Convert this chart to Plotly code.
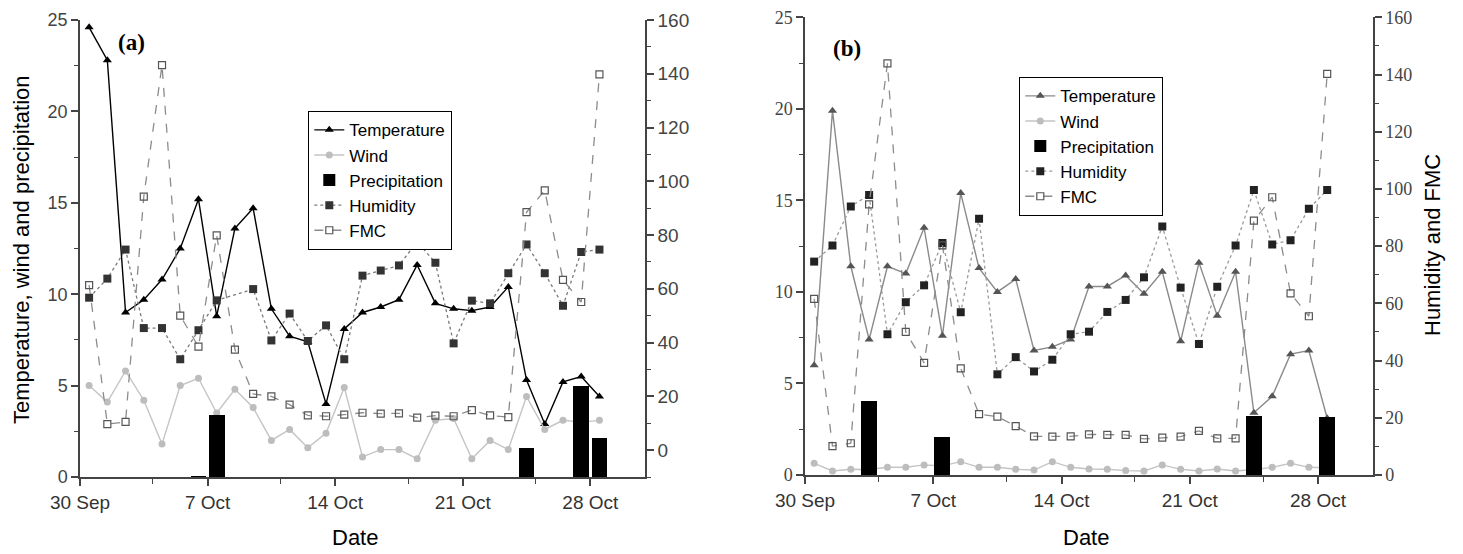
import pandas as pd
import plotly.graph_objects as go

# ---------------- data ----------------
dates = pd.date_range("2012-09-30", "2012-10-28", freq="D")   # daily values, plotted at mid-day

# panel (a)
temp_a = [24.6, 22.8, 9.0, 9.7, 10.8, 12.5, 15.2, 8.8, 13.6, 14.7, 9.2, 7.7, 7.4, 4.0, 8.1,
          9.0, 9.3, 9.7, 11.6, 9.5, 9.2, 9.1, 9.3, 10.4, 5.3, 2.9, 5.2, 5.5, 4.4]
wind_a = [5.0, 4.1, 5.8, 4.2, 1.8, 5.0, 5.4, 3.5, 4.8, 3.8, 2.0, 2.6, 1.6, 2.4, 4.9,
          1.1, 1.5, 1.5, 1.0, 3.1, 3.2, 1.0, 2.0, 1.5, 4.4, 2.6, 3.1, 3.0, 3.1]
precip_a = [0, 0, 0, 0, 0, 0, 0.05, 3.4, 0, 0, 0, 0, 0, 0, 0,
            0, 0, 0, 0, 0, 0, 0, 0, 0, 1.6, 0, 0, 5.0, 2.15]
hum_a = [56.7, 63.8, 74.6, 45.4, 45.4, 33.8, 44.6, 55.7, None, 59.9, 40.8, 50.8, 40.6, 46.4, 33.8,
         64.9, 66.8, 68.7, 77.5, 69.7, 39.7, 55.6, 54.6, 65.8, 76.5, 65.8, 53.7, 73.7, 74.6]
fmc_a = [61.4, 9.7, 10.5, 94.3, 143.2, 50.0, 38.5, 79.9, 37.4, 20.9, 20.0, 16.9, 12.9, 12.6, 13.2,
         13.9, 13.6, 13.7, 12.1, 12.8, 12.6, 14.9, 12.9, 12.3, 88.5, 96.6, 63.3, 55.1, 139.8]

# panel (b)
temp_b = [6.0, 19.9, 11.4, 7.4, 11.4, 11.0, 13.5, 7.6, 15.4, 11.3, 10.0, 10.7, 6.8, 7.0, 7.4,
          10.3, 10.3, 10.9, 9.9, 11.1, 7.3, 11.6, 8.7, 11.1, 3.4, 4.3, 6.6, 6.8, 3.1]
wind_b = [0.64, 0.22, 0.31, 0.3, 0.42, 0.42, 0.55, 0.5, 0.73, 0.42, 0.42, 0.31, 0.27, 0.73, 0.42,
          0.33, 0.31, 0.24, 0.22, 0.55, 0.31, 0.22, 0.33, 0.22, 0.3, 0.42, 0.64, 0.42, 0.4]
precip_b = [0, 0, 0, 4.0, 0, 0, 0, 2.05, 0, 0, 0, 0, 0, 0, 0,
            0, 0, 0, 0, 0, 0, 0, 0, 0, 3.2, 0, 0, 0, 3.15]
hum_b = [74.6, 80.2, 93.9, 97.9, 49.2, 60.4, 66.3, 81.1, 56.9, 89.6, 35.2, 41.2, 36.2, 40.3, 49.2,
         50.1, 57.0, 61.2, 69.1, 86.9, 65.5, 45.8, 65.8, 80.2, 99.6, 80.6, 82.1, 93.1, 99.6]
fmc_b = [61.6, 10.1, 11.1, 94.6, 143.9, 50.0, 39.2, 80.3, 37.3, 21.3, 20.4, 17.1, 13.5, 13.4, 13.5,
         14.2, 14.0, 14.0, 12.6, 13.1, 13.4, 15.4, 12.8, 12.8, 88.9, 97.1, 63.5, 55.5, 140.2]

# axis ticks
tick_dates = ["2012-09-30", "2012-10-07", "2012-10-14", "2012-10-21", "2012-10-28"]
tick_text = ["30 Sep", "7 Oct", "14 Oct", "21 Oct", "28 Oct"]
minor_dates = ["2012-10-04", "2012-10-11", "2012-10-18", "2012-10-25"]
x_range = ["2012-09-30", "2012-10-31"]

# ---------------- figure ----------------
x = dates + pd.Timedelta(hours=12)
bar_w = 0.87 * 86400000
SANS = "Liberation Sans, Arial, sans-serif"
SERIF = "Liberation Serif, Times New Roman, serif"
AX = "#444444"

fig = go.Figure()


def add_panel(xa, yl, yr, yb, leg, temp, wind, precip, hum, fmc, dark):
    t_line = "black" if dark else "#8a8a8a"
    t_mark = "black" if dark else "#555555"
    h_mark = "#333333" if dark else "#222222"
    fig.add_trace(go.Scatter(x=x, y=temp, name="Temperature", xaxis=xa, yaxis=yl, legend=leg,
                             mode="lines+markers", line=dict(color=t_line, width=1.4),
                             marker=dict(symbol="triangle-up", size=8, color=t_mark)))
    fig.add_trace(go.Scatter(x=x, y=wind, name="Wind", xaxis=xa, yaxis=yl, legend=leg,
                             mode="lines+markers", line=dict(color="#c4c4c4", width=1.4),
                             marker=dict(symbol="circle", size=7, color="#bdbdbd")))
    fig.add_trace(go.Bar(x=x, y=precip, name="Precipitation", xaxis=xa, yaxis=yb, legend=leg,
                         width=bar_w, marker=dict(color="black", line=dict(width=0))))
    fig.add_trace(go.Scatter(x=x, y=hum, name="Humidity", xaxis=xa, yaxis=yr, legend=leg,
                             mode="lines+markers", connectgaps=True,
                             line=dict(color="#7a7a7a" if dark else "#9a9a9a", width=1.3, dash="dot"),
                             marker=dict(symbol="square", size=8, color=h_mark)))
    fig.add_trace(go.Scatter(x=x, y=fmc, name="FMC", xaxis=xa, yaxis=yr, legend=leg,
                             mode="lines+markers",
                             line=dict(color="#8c8c8c", width=1.3, dash="dash"),
                             marker=dict(symbol="square-open", size=7, color="#555555",
                                         line=dict(width=1.2))))


add_panel("x", "y", "y2", "y3", "legend", temp_a, wind_a, precip_a, hum_a, fmc_a, True)
add_panel("x2", "y4", "y5", "y6", "legend2", temp_b, wind_b, precip_b, hum_b, fmc_b, False)


def xax(domain, anchor):
    return dict(domain=domain, anchor=anchor, type="date", range=x_range, automargin=False,
                tickmode="array", tickvals=tick_dates, ticktext=tick_text,
                ticks="outside", ticklen=7, tickwidth=1.5, tickcolor=AX,
                showline=True, linecolor=AX, linewidth=1.5, showgrid=False, zeroline=False,
                tickfont=dict(family=SANS, size=19, color="#333333"),
                minor=dict(tickmode="array", tickvals=minor_dates, ticks="outside",
                           ticklen=5, tickwidth=1.2, tickcolor=AX, showgrid=False))


def yax(domain, anchor, rng, dtick, mdtick, font, size, side="left", overlaying=None):
    d = dict(domain=domain, anchor=anchor, range=rng, side=side, automargin=False,
             tickmode="linear", tick0=0, dtick=dtick,
             ticks="outside", ticklen=7, tickwidth=1.5, tickcolor=AX,
             showline=True, linecolor=AX, linewidth=1.5, showgrid=False, zeroline=False,
             tickfont=dict(family=font, size=size, color="#444444"),
             minor=dict(tick0=0, dtick=mdtick, ticks="outside", ticklen=4, tickwidth=1.2,
                        tickcolor=AX, showgrid=False))
    if overlaying:
        d["overlaying"] = overlaying
    return d


dom_a_x, dom_a_y = [80 / 1463, 645 / 1463], [77 / 554, 534 / 554]
dom_b_x, dom_b_y = [805 / 1463, 1373 / 1463], [79 / 554, 536.7 / 554]

legend_style = dict(xanchor="left", yanchor="top", bgcolor="white", bordercolor="black",
                    borderwidth=1.3, font=dict(family=SANS, size=17, color="black"),
                    traceorder="normal", tracegroupgap=0, itemwidth=30)

fig.update_layout(
    width=1463, height=554, margin=dict(l=0, r=0, t=0, b=0, pad=0, autoexpand=False),
    paper_bgcolor="white", plot_bgcolor="rgba(0,0,0,0)",
    showlegend=True, bargap=0,
    xaxis=xax(dom_a_x, "y"),
    yaxis=yax(dom_a_y, "x", [0, 25], 5, 2.5, SANS, 18),
    yaxis2=yax(dom_a_y, "x", [-10, 160], 20, 10, SANS, 19, side="right", overlaying="y"),
    yaxis3=dict(domain=dom_a_y, anchor="x", range=[0, 25], overlaying="y", visible=False),
    xaxis2=xax(dom_b_x, "y4"),
    yaxis4=yax(dom_b_y, "x2", [0, 25], 5, 2.5, SERIF, 18),
    yaxis5=yax(dom_b_y, "x2", [0, 160], 20, 10, SERIF, 18, side="right", overlaying="y4"),
    yaxis6=dict(domain=dom_b_y, anchor="x2", range=[0, 25], overlaying="y4", visible=False),
    legend=dict(x=308 / 1463, y=(554 - 111) / 554, **legend_style),
    legend2=dict(x=1019 / 1463, y=(554 - 77) / 554, **legend_style),
    annotations=[
        dict(text="<b>(a)</b>", x=131 / 1463, y=(554 - 43) / 554, xref="paper", yref="paper",
             showarrow=False, xanchor="center", yanchor="middle",
             font=dict(family=SERIF, size=23, color="black")),
        dict(text="<b>(b)</b>", x=847 / 1463, y=(554 - 48) / 554, xref="paper", yref="paper",
             showarrow=False, xanchor="center", yanchor="middle",
             font=dict(family=SERIF, size=23, color="black")),
        dict(text="Temperature, wind and precipitation", x=22 / 1463, y=(554 - 250) / 554,
             xref="paper", yref="paper", showarrow=False, textangle=-90,
             xanchor="center", yanchor="middle",
             font=dict(family=SANS, size=22, color="black")),
        dict(text="Humidity and FMC", x=1433 / 1463, y=(554 - 245) / 554,
             xref="paper", yref="paper", showarrow=False, textangle=-90,
             xanchor="center", yanchor="middle",
             font=dict(family=SANS, size=22, color="black")),
        dict(text="Date", x=355 / 1463, y=(554 - 537) / 554, xref="paper", yref="paper",
             showarrow=False, xanchor="center", yanchor="middle",
             font=dict(family=SANS, size=22, color="black")),
        dict(text="Date", x=1086 / 1463, y=(554 - 537) / 554, xref="paper", yref="paper",
             showarrow=False, xanchor="center", yanchor="middle",
             font=dict(family=SANS, size=22, color="black")),
    ],
)

fig.write_html("out.html", config={"displayModeBar": False},
               post_script="document.body.style.margin='0';document.body.style.overflow='hidden';")
